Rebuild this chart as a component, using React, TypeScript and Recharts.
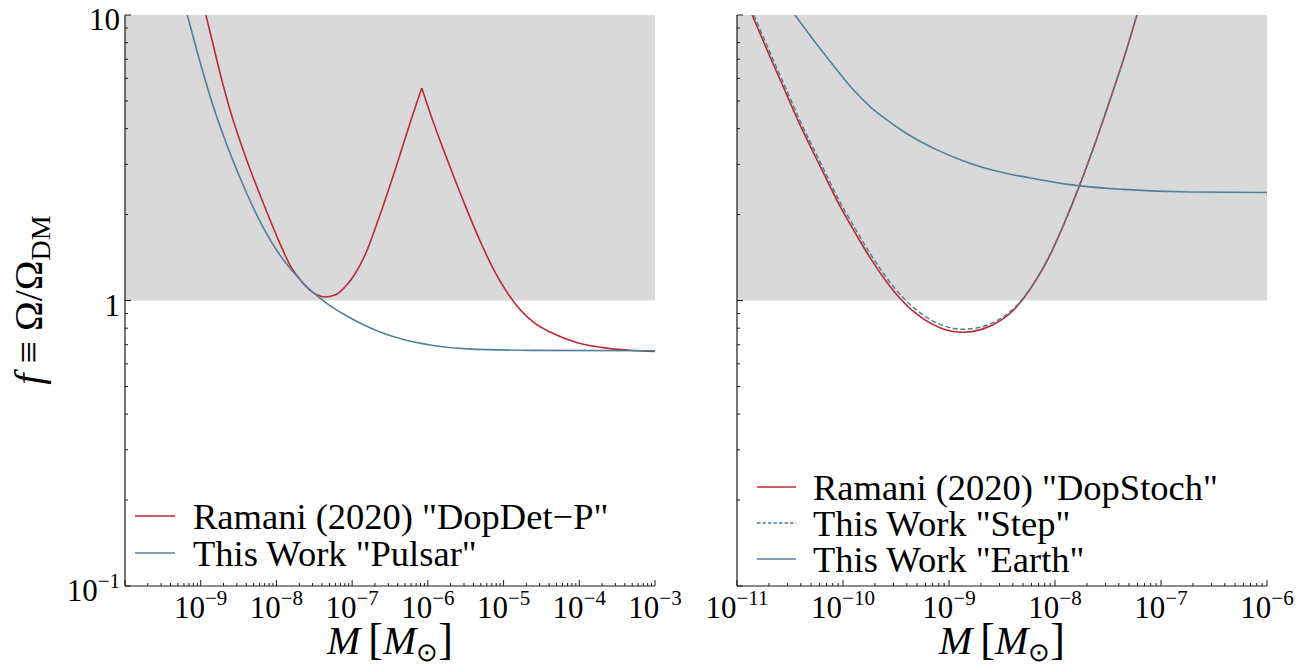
import { LineChart, Line, XAxis, YAxis, ReferenceArea } from 'recharts'

const SERIF = "'Liberation Serif', 'Times New Roman', serif"
const RED = '#bd2a2f'
const BLUE = '#4f8299'
const SHADE = '#d9d9d9'
const INK = '#1a1a1a'

// left panel, M in solar masses, f = Omega / Omega_DM
const dopDetP = [
  { m: 1.17e-9, f: 10 }, { m: 1.41e-9, f: 8.17 }, { m: 1.8e-9, f: 6.26 }, { m: 2.44e-9, f: 4.65 },
  { m: 4.05e-9, f: 3.105 }, { m: 6.71e-9, f: 2.19 }, { m: 1.11e-8, f: 1.586 }, { m: 1.51e-8, f: 1.331 },
  { m: 2.05e-8, f: 1.185 }, { m: 2.77e-8, f: 1.088 }, { m: 3.54e-8, f: 1.043 }, { m: 4.38e-8, f: 1.029 },
  { m: 5.94e-8, f: 1.045 }, { m: 8.05e-8, f: 1.115 }, { m: 1.09e-7, f: 1.238 }, { m: 1.48e-7, f: 1.443 },
  { m: 2.33e-7, f: 1.993 }, { m: 3.88e-7, f: 2.984 }, { m: 6.43e-7, f: 4.54 }, { m: 8.3e-7, f: 5.55 },
  { m: 1.07e-6, f: 4.54 }, { m: 1.79e-6, f: 3.13 }, { m: 2.91e-6, f: 2.249 }, { m: 4.89e-6, f: 1.616 },
  { m: 7.71e-6, f: 1.258 }, { m: 1.15e-5, f: 1.054 }, { m: 1.65e-5, f: 0.93 }, { m: 2.6e-5, f: 0.831 },
  { m: 4.1e-5, f: 0.776 }, { m: 9.25e-5, f: 0.713 }, { m: 2.3e-4, f: 0.681 }, { m: 5.16e-4, f: 0.668 },
  { m: 1e-3, f: 0.663 },
]
const dopDetPeak = 19 // the cusp

const pulsar = [
  { m: 6.65e-10, f: 10 }, { m: 8.85e-10, f: 7.54 }, { m: 1.47e-9, f: 4.77 }, { m: 2.44e-9, f: 3.28 },
  { m: 4.05e-9, f: 2.375 }, { m: 6.71e-9, f: 1.795 }, { m: 1.11e-8, f: 1.443 }, { m: 1.67e-8, f: 1.258 },
  { m: 2.51e-8, f: 1.117 }, { m: 3.76e-8, f: 1.02 }, { m: 5.1e-8, f: 0.96 }, { m: 8.3e-8, f: 0.886 },
  { m: 1.39e-7, f: 0.824 }, { m: 2.33e-7, f: 0.776 }, { m: 4.29e-7, f: 0.736 }, { m: 1.17e-6, f: 0.696 },
  { m: 3.29e-6, f: 0.677 }, { m: 2.45e-5, f: 0.669 }, { m: 1e-3, f: 0.667 },
]

// right panel
const dopStoch = [
  { m: 1.39e-11, f: 10 }, { m: 2.05e-11, f: 7.13 }, { m: 2.84e-11, f: 5.42 }, { m: 3.93e-11, f: 4.12 },
  { m: 6.07e-11, f: 2.96 }, { m: 9.37e-11, f: 2.14 }, { m: 1.3e-10, f: 1.728 }, { m: 1.8e-10, f: 1.413 },
  { m: 3.1e-10, f: 1.065 }, { m: 4.78e-10, f: 0.906 }, { m: 8.22e-10, f: 0.803 }, { m: 1.36e-9, f: 0.774 },
  { m: 1.96e-9, f: 0.789 }, { m: 3.02e-9, f: 0.848 }, { m: 3.92e-9, f: 0.914 }, { m: 5.08e-9, f: 1.02 },
  { m: 6.73e-9, f: 1.19 }, { m: 8.97e-9, f: 1.443 }, { m: 1.23e-8, f: 1.873 }, { m: 1.7e-8, f: 2.52 },
  { m: 2.35e-8, f: 3.49 }, { m: 3.25e-8, f: 4.95 }, { m: 4.41e-8, f: 6.95 }, { m: 5.93e-8, f: 10 },
]

const step = [
  { m: 1.44e-11, f: 10 }, { m: 2.05e-11, f: 7.38 }, { m: 2.84e-11, f: 5.61 }, { m: 3.93e-11, f: 4.26 },
  { m: 6.07e-11, f: 3.06 }, { m: 9.37e-11, f: 2.21 }, { m: 1.3e-10, f: 1.788 }, { m: 1.8e-10, f: 1.462 },
  { m: 3.1e-10, f: 1.1 }, { m: 4.78e-10, f: 0.935 }, { m: 8.22e-10, f: 0.825 }, { m: 1.36e-9, f: 0.793 },
  { m: 1.96e-9, f: 0.806 }, { m: 3.02e-9, f: 0.862 }, { m: 3.92e-9, f: 0.925 }, { m: 5.08e-9, f: 1.028 },
  { m: 6.73e-9, f: 1.196 }, { m: 8.97e-9, f: 1.45 }, { m: 1.23e-8, f: 1.88 }, { m: 1.7e-8, f: 2.53 },
  { m: 2.35e-8, f: 3.5 }, { m: 3.25e-8, f: 4.97 }, { m: 4.41e-8, f: 6.98 }, { m: 5.9e-8, f: 10 },
]

const earth = [
  { m: 3.52e-11, f: 10 }, { m: 6.07e-11, f: 7.63 }, { m: 8.77e-11, f: 6.42 }, { m: 1.26e-10, f: 5.46 },
  { m: 1.81e-10, f: 4.77 }, { m: 2.6e-10, f: 4.29 }, { m: 3.74e-10, f: 3.9 }, { m: 7.71e-10, f: 3.37 },
  { m: 1.59e-9, f: 3.02 }, { m: 3.28e-9, f: 2.8 }, { m: 6.76e-9, f: 2.66 }, { m: 1.72e-8, f: 2.52 },
  { m: 4.39e-8, f: 2.45 }, { m: 1.88e-7, f: 2.4 }, { m: 1e-6, f: 2.39 },
]

// axes (decade exponents)
const leftDecades = [-10, -9, -8, -7, -6, -5, -4, -3]
const leftLabelled = [-9, -8, -7, -6, -5, -4, -3]
const rightDecades = [-11, -10, -9, -8, -7, -6]
const rightLabelled = [-11, -10, -9, -8, -7, -6]
const fDecades = [-1, 0, 1]
const fBase = ['10', '1', '10']
const fSup = ['\u22121', '', '']

const logTicks = (decs: number[]) => {
  const out: number[] = []
  decs.forEach((e, i) => {
    out.push(Math.pow(10, e))
    if (i < decs.length - 1) for (let k = 2; k <= 9; k++) out.push(k * Math.pow(10, e))
  })
  return out
}
const isMajor = (v: number) => Math.abs(Math.log10(v) - Math.round(Math.log10(v))) < 1e-6
const txt = { fontFamily: SERIF }

const xTick = (side: 'bottom' | 'top', labelled: number[]) => (p: any) => {
  const { x, y, payload } = p
  const v = payload.value
  const e = Math.round(Math.log10(v))
  const major = isMajor(v)
  const len = major ? 6 : 3
  const dir = side === 'bottom' ? -1 : 1
  return (
    <g>
      <line x1={x} x2={x} y1={y} y2={y + dir * len} stroke={INK} strokeWidth={1} />
      {side === 'bottom' && major && labelled.includes(e) && (
        <text x={x} y={y + 32} textAnchor="middle" style={txt} fontSize={31} fill="#000">
          10<tspan dy={-13} fontSize={21}>{'\u2212' + Math.abs(e)}</tspan>
        </text>
      )}
    </g>
  )
}

const yTick = (side: 'left' | 'right', labelled: boolean) => (p: any) => {
  const { x, y, payload } = p
  const v = payload.value
  const e = Math.round(Math.log10(v))
  const major = isMajor(v)
  const len = major ? 6 : 3
  const dir = side === 'left' ? 1 : -1
  const i = fDecades.indexOf(e)
  return (
    <g>
      <line x1={x} x2={x + dir * len} y1={y} y2={y} stroke={INK} strokeWidth={1} />
      {labelled && major && i >= 0 && (
        <text x={x - 5} y={y + 15} textAnchor="end" style={txt} fontSize={31} fill="#000">
          {fBase[i]}
          {fSup[i] && <tspan dy={-13} fontSize={21}>{fSup[i]}</tspan>}
        </text>
      )}
    </g>
  )
}

const fTicks = logTicks(fDecades)

function Panel({ decades, labelled, yLabels, yWidth, right, children }: any) {
  const xt = logTicks(decades)
  const dom = [Math.pow(10, decades[0]), Math.pow(10, decades[decades.length - 1])]
  const axis = { stroke: INK, strokeWidth: 1.2 }
  return (
    <LineChart width={yWidth + 530 + right} height={666} margin={{ top: 15, right, bottom: 0, left: 0 }}>
      <XAxis dataKey="m" type="number" scale="log" domain={dom} allowDataOverflow ticks={xt} interval={0}
        height={80} tickSize={0} tickMargin={0} tickLine={false} axisLine={axis} tick={xTick('bottom', labelled)} />
      <XAxis xAxisId="top" orientation="top" type="number" scale="log" domain={dom} allowDataOverflow ticks={xt}
        interval={0} height={0} tickSize={0} tickMargin={0} tickLine={false} axisLine={axis} tick={xTick('top', labelled)} />
      <YAxis type="number" scale="log" domain={[0.1, 10]} allowDataOverflow ticks={fTicks} interval={0}
        width={yWidth} tickSize={0} tickMargin={0} tickLine={false} axisLine={axis} tick={yTick('left', yLabels)} />
      <YAxis yAxisId="right" orientation="right" type="number" scale="log" domain={[0.1, 10]} allowDataOverflow
        ticks={fTicks} interval={0} width={0} tickSize={0} tickMargin={0} tickLine={false} axisLine={axis}
        tick={yTick('right', false)} />
      <ReferenceArea y1={1} y2={10} fill={SHADE} fillOpacity={1} stroke="none" />
      {children}
    </LineChart>
  )
}

const lineProps = { dataKey: 'f', type: 'monotone' as const, dot: false, isAnimationActive: false, strokeWidth: 1.6 }

const Mlabel = ({ x }: { x: number }) => (
  <text x={x} y={654} textAnchor="middle" style={txt} fontSize={40} fill="#000">
    <tspan fontStyle="italic">M</tspan>
    <tspan dx={8} fontSize={44}>[</tspan>
    <tspan fontStyle="italic">M</tspan>
    <tspan fontSize={26} dy={7}>{'\u2299'}</tspan>
    <tspan fontSize={44} dy={-7}>]</tspan>
  </text>
)

export default function App() {
  return (
    <div style={{ position: 'absolute', left: 0, top: 0, width: 1310, height: 666, background: '#fff' }}>
      <div style={{ position: 'absolute', left: 0, top: 0 }}>
        <Panel decades={leftDecades} labelled={leftLabelled} yLabels yWidth={125} right={45}>
          <Line {...lineProps} data={dopDetP.slice(0, dopDetPeak + 1)} stroke={RED} />
          <Line {...lineProps} data={dopDetP.slice(dopDetPeak)} stroke={RED} />
          <Line {...lineProps} data={pulsar} stroke={BLUE} />
        </Panel>
      </div>
      <div style={{ position: 'absolute', left: 670, top: 0 }}>
        <Panel decades={rightDecades} labelled={rightLabelled} yLabels={false} yWidth={67} right={43}>
          <Line {...lineProps} data={dopStoch} stroke={RED} />
          <Line {...lineProps} data={step} stroke={BLUE} strokeDasharray="5 2.6" strokeWidth={1.5} />
          <Line {...lineProps} data={earth} stroke={BLUE} />
        </Panel>
      </div>
      <svg width={1310} height={666} style={{ position: 'absolute', left: 0, top: 0, pointerEvents: 'none' }}>
        <text x={42} y={300} transform="rotate(-90 42 300)" textAnchor="middle" style={txt} fontSize={40} fill="#000">
          <tspan fontStyle="italic">f</tspan> {'\u2261 \u03a9/\u03a9'}
          <tspan fontSize={28} dy={8}>DM</tspan>
        </text>
        <Mlabel x={390} />
        <Mlabel x={1002} />
        <g style={txt} fontSize={36.5} fill="#000">
          <line x1={135} x2={175} y1={516} y2={516} stroke={RED} strokeWidth={1.6} />
          <text x={193} y={529}>Ramani (2020) "DopDet{'\u2212'}P"</text>
          <line x1={135} x2={175} y1={553} y2={553} stroke={BLUE} strokeWidth={1.6} />
          <text x={193} y={566}>This Work "Pulsar"</text>
          <line x1={757} x2={796} y1={487} y2={487} stroke={RED} strokeWidth={1.6} />
          <text x={813} y={500}>Ramani (2020) "DopStoch"</text>
          <line x1={757} x2={796} y1={523} y2={523} stroke={BLUE} strokeWidth={1.5} strokeDasharray="3.5 2" />
          <text x={813} y={536}>This Work "Step"</text>
          <line x1={757} x2={796} y1={559} y2={559} stroke={BLUE} strokeWidth={1.6} />
          <text x={813} y={572}>This Work "Earth"</text>
        </g>
      </svg>
    </div>
  )
}
